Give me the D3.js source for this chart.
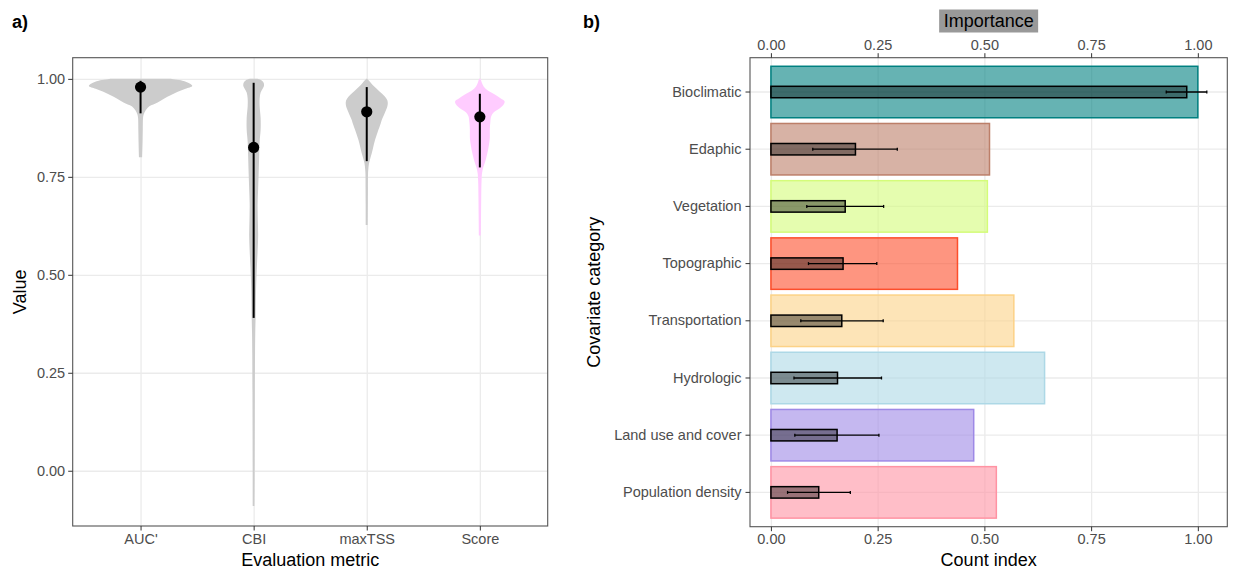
<!DOCTYPE html>
<html>
<head>
<meta charset="utf-8">
<script src="https://cdn.jsdelivr.net/npm/d3@7.9.0/dist/d3.min.js"></script>
<style>
  body { margin: 0; background: #fff; }
  text { font-family: "Liberation Sans", Arial, Helvetica, sans-serif; }
</style>
</head>
<body>
<div id="chart"></div>
<script>
// ---- panel a data: evaluation metrics (violins + point/range)
const metrics = ["AUC'", 'CBI', 'maxTSS', 'Score'];
const violinFill = ['#cccccc', '#cccccc', '#cccccc', '#ffccff'];

// [value, relative density] profiles
const aucViolin = [[1.0, 0.58], [0.995, 0.81], [0.988, 0.95], [0.982, 1.0], [0.975, 0.87], [0.967, 0.72],
  [0.958, 0.58], [0.95, 0.46], [0.94, 0.33], [0.93, 0.17], [0.92, 0.1], [0.91, 0.062], [0.9, 0.048],
  [0.87, 0.043], [0.84, 0.039], [0.8, 0.031]];
const cbiViolin = [[1.0, 0.077], [0.996, 0.155], [0.99, 0.193], [0.982, 0.2], [0.975, 0.174], [0.965, 0.135],
  [0.95, 0.116], [0.93, 0.116], [0.9, 0.135], [0.87, 0.135], [0.84, 0.116], [0.8, 0.106], [0.76, 0.097],
  [0.72, 0.087], [0.68, 0.077], [0.64, 0.081], [0.6, 0.087], [0.56, 0.077], [0.52, 0.062], [0.48, 0.05],
  [0.44, 0.043], [0.4, 0.039], [0.35, 0.031], [0.3, 0.027], [0.2, 0.023], [0.1, 0.021], [0.0, 0.019], [-0.09, 0.017]];
const tssViolin = [[1.0, 0.01], [0.99, 0.077], [0.979, 0.155], [0.965, 0.27], [0.955, 0.35], [0.945, 0.4],
  [0.935, 0.406], [0.925, 0.387], [0.91, 0.339], [0.895, 0.29], [0.886, 0.27], [0.865, 0.213], [0.844, 0.16],
  [0.826, 0.126], [0.81, 0.097], [0.795, 0.064], [0.784, 0.043], [0.77, 0.031], [0.758, 0.025], [0.72, 0.023],
  [0.68, 0.021], [0.627, 0.019]];
const scoreViolin = [[1.0, 0.015], [0.99, 0.039], [0.98, 0.077], [0.97, 0.155], [0.96, 0.29], [0.95, 0.406],
  [0.943, 0.478], [0.935, 0.464], [0.925, 0.387], [0.915, 0.27], [0.905, 0.222], [0.89, 0.203], [0.87, 0.193],
  [0.85, 0.193], [0.83, 0.174], [0.81, 0.145], [0.79, 0.106], [0.775, 0.068], [0.76, 0.043], [0.74, 0.033],
  [0.7, 0.027], [0.65, 0.023], [0.6, 0.019]];
const violins = [aucViolin, cbiViolin, tssViolin, scoreViolin];

const metricCentre = [0.979, 0.825, 0.916, 0.903];
const metricLow = [0.912, 0.39, 0.79, 0.774];
const metricHigh = [0.995, 0.99, 0.979, 0.962];
const valueTicks = [0, 0.25, 0.5, 0.75, 1];

// ---- panel b data: covariate categories
const categories = ['Bioclimatic', 'Edaphic', 'Vegetation', 'Topographic', 'Transportation',
  'Hydrologic', 'Land use and cover', 'Population density'];
const countIndex = [1.0, 0.512, 0.507, 0.437, 0.569, 0.641, 0.475, 0.528];
const importance = [0.974, 0.198, 0.174, 0.169, 0.166, 0.156, 0.155, 0.112];
const importanceLow = [0.926, 0.098, 0.084, 0.088, 0.07, 0.054, 0.056, 0.039];
const importanceHigh = [1.021, 0.296, 0.264, 0.248, 0.263, 0.259, 0.253, 0.186];
const categoryColors = ['#008080', '#bc7f69', '#d4fc7a', '#fd4e2b', '#fcd287', '#add8e6', '#9e89e6', '#ff93a3'];
const indexTicks = [0, 0.25, 0.5, 0.75, 1];

const width = 1235;
const height = 570;
const fmt = d3.format('.2f');

const svg = d3.select('#chart').append('svg')
  .attr('width', width)
  .attr('height', height)
  .style('display', 'block');

svg.append('rect').attr('width', width).attr('height', height).attr('fill', '#fff');

// ================= panel a =================
const pa = { left: 72.7, right: 547.7, top: 57.7, bottom: 526 };

const xA = d3.scalePoint().domain(metrics).range([pa.left, pa.right]).padding(0.6);
const yA = d3.scaleLinear().domain([-0.141, 1.054]).range([pa.bottom, pa.top]);
const halfA = xA.step() * 0.457; // widest violin half-width

const gA = svg.append('g');

// gridlines
gA.append('g')
  .attr('transform', `translate(${pa.left},0)`)
  .call(d3.axisLeft(yA).tickValues(valueTicks).tickFormat('').tickSize(-(pa.right - pa.left)))
  .call((g) => g.select('.domain').remove())
  .call((g) => g.selectAll('line').attr('stroke', '#ebebeb').attr('stroke-width', 1.3));
gA.append('g')
  .attr('transform', `translate(0,${pa.bottom})`)
  .call(d3.axisBottom(xA).tickFormat('').tickSize(-(pa.bottom - pa.top)))
  .call((g) => g.select('.domain').remove())
  .call((g) => g.selectAll('line').attr('stroke', '#ebebeb').attr('stroke-width', 1.3));

// violins
violins.forEach((prof, i) => {
  const cx = xA(metrics[i]);
  const area = d3.area()
    .y((d) => yA(d[0]))
    .x0((d) => cx - d[1] * halfA)
    .x1((d) => cx + d[1] * halfA)
    .curve(d3.curveCatmullRom);
  gA.append('path').attr('d', area(prof)).attr('fill', violinFill[i]);
});

// range lines and points
gA.append('g').selectAll('line').data(metrics).join('line')
  .attr('x1', (d) => xA(d)).attr('x2', (d) => xA(d))
  .attr('y1', (d, i) => yA(metricLow[i])).attr('y2', (d, i) => yA(metricHigh[i]))
  .attr('stroke', '#000').attr('stroke-width', 2);
gA.append('g').selectAll('circle').data(metrics).join('circle')
  .attr('cx', (d) => xA(d)).attr('cy', (d, i) => yA(metricCentre[i]))
  .attr('r', 5.6).attr('fill', '#000');

// border
gA.append('rect')
  .attr('x', pa.left).attr('y', pa.top)
  .attr('width', pa.right - pa.left).attr('height', pa.bottom - pa.top)
  .attr('fill', 'none').attr('stroke', '#555').attr('stroke-width', 1.1);

const styleAxis = (g) => {
  g.select('.domain').remove();
  g.selectAll('line').attr('stroke', '#333');
  g.selectAll('text').attr('fill', '#4d4d4d').style('font-size', '14.5px')
    .style('font-family', '"Liberation Sans", Arial, sans-serif');
};

// axes
gA.append('g')
  .attr('transform', `translate(${pa.left},0)`)
  .call(d3.axisLeft(yA).tickValues(valueTicks).tickFormat(fmt).tickSize(4.5).tickPadding(3))
  .call(styleAxis);
gA.append('g')
  .attr('transform', `translate(0,${pa.bottom})`)
  .call(d3.axisBottom(xA).tickSize(4.5).tickPadding(3))
  .call(styleAxis);

gA.append('text')
  .attr('x', (pa.left + pa.right) / 2).attr('y', 566)
  .attr('text-anchor', 'middle').style('font-size', '18px')
  .text('Evaluation metric');
gA.append('text')
  .attr('transform', `translate(26,${(pa.top + pa.bottom) / 2}) rotate(-90)`)
  .attr('text-anchor', 'middle').style('font-size', '18px')
  .text('Value');
gA.append('text')
  .attr('x', 12).attr('y', 28)
  .style('font-size', '18px').style('font-weight', 'bold')
  .text('a)');

// ================= panel b =================
const pb = { left: 750, right: 1227.3, top: 57.7, bottom: 526.7 };

const xB = d3.scaleLinear().domain([-0.049, 1.069]).range([pb.left, pb.right]);
const yB = d3.scaleBand().domain(categories).range([pb.top, pb.bottom]).paddingOuter(0.1).paddingInner(0);
const stepB = yB.step();
const gB = svg.append('g');

// gridlines
gB.append('g')
  .attr('transform', `translate(0,${pb.bottom})`)
  .call(d3.axisBottom(xB).tickValues(indexTicks).tickFormat('').tickSize(-(pb.bottom - pb.top)))
  .call((g) => g.select('.domain').remove())
  .call((g) => g.selectAll('line').attr('stroke', '#ebebeb').attr('stroke-width', 1.3));
gB.append('g')
  .attr('transform', `translate(${pb.left},0)`)
  .call(d3.axisLeft(yB).tickFormat('').tickSize(-(pb.right - pb.left)))
  .call((g) => g.select('.domain').remove())
  .call((g) => g.selectAll('line').attr('stroke', '#ebebeb').attr('stroke-width', 1.3));

const centreY = (d) => yB(d) + stepB / 2;

// count index bars
gB.append('g').selectAll('rect').data(categories).join('rect')
  .attr('x', xB(0))
  .attr('y', (d) => centreY(d) - stepB * 0.45)
  .attr('width', (d, i) => xB(countIndex[i]) - xB(0))
  .attr('height', stepB * 0.9)
  .attr('fill', (d, i) => categoryColors[i])
  .attr('fill-opacity', 0.6)
  .attr('stroke', (d, i) => categoryColors[i])
  .attr('stroke-width', 1.5);

// importance bars
gB.append('g').selectAll('rect').data(categories).join('rect')
  .attr('x', xB(0))
  .attr('y', (d) => centreY(d) - stepB * 0.1)
  .attr('width', (d, i) => xB(importance[i]) - xB(0))
  .attr('height', stepB * 0.2)
  .attr('fill', '#000')
  .attr('fill-opacity', 0.4)
  .attr('stroke', '#000')
  .attr('stroke-width', 1.5);

// error bars
const eb = gB.append('g').attr('stroke', '#000').attr('stroke-width', 1.3);
eb.selectAll('line.h').data(categories).join('line').attr('class', 'h')
  .attr('x1', (d, i) => xB(importanceLow[i])).attr('x2', (d, i) => xB(importanceHigh[i]))
  .attr('y1', centreY).attr('y2', centreY);
eb.selectAll('line.lo').data(categories).join('line').attr('class', 'lo')
  .attr('x1', (d, i) => xB(importanceLow[i])).attr('x2', (d, i) => xB(importanceLow[i]))
  .attr('y1', (d) => centreY(d) - 1.5).attr('y2', (d) => centreY(d) + 1.5);
eb.selectAll('line.hi').data(categories).join('line').attr('class', 'hi')
  .attr('x1', (d, i) => xB(importanceHigh[i])).attr('x2', (d, i) => xB(importanceHigh[i]))
  .attr('y1', (d) => centreY(d) - 1.5).attr('y2', (d) => centreY(d) + 1.5);

// border
gB.append('rect')
  .attr('x', pb.left).attr('y', pb.top)
  .attr('width', pb.right - pb.left).attr('height', pb.bottom - pb.top)
  .attr('fill', 'none').attr('stroke', '#555').attr('stroke-width', 1.1);

gB.append('g')
  .attr('transform', `translate(0,${pb.bottom})`)
  .call(d3.axisBottom(xB).tickValues(indexTicks).tickFormat(fmt).tickSize(4.5).tickPadding(3))
  .call(styleAxis);
gB.append('g')
  .attr('transform', `translate(0,${pb.top})`)
  .call(d3.axisTop(xB).tickValues(indexTicks).tickFormat(fmt).tickSize(4.5).tickPadding(3))
  .call(styleAxis);
gB.append('g')
  .attr('transform', `translate(${pb.left},0)`)
  .call(d3.axisLeft(yB).tickSize(4.5).tickPadding(4))
  .call(styleAxis);

gB.append('text')
  .attr('x', (pb.left + pb.right) / 2).attr('y', 566)
  .attr('text-anchor', 'middle').style('font-size', '18px')
  .text('Count index');
gB.append('text')
  .attr('transform', `translate(600,${(pb.top + pb.bottom) / 2}) rotate(-90)`)
  .attr('text-anchor', 'middle').style('font-size', '18px')
  .text('Covariate category');

// top axis title with grey box
const titleB = gB.append('g').attr('transform', `translate(${(pb.left + pb.right) / 2},21)`);
titleB.append('rect')
  .attr('x', -49.5).attr('y', -11.5).attr('width', 99).attr('height', 23)
  .attr('fill', '#999999');
titleB.append('text')
  .attr('text-anchor', 'middle').attr('dy', '0.35em')
  .style('font-size', '18px')
  .text('Importance');

gB.append('text')
  .attr('x', 583).attr('y', 28)
  .style('font-size', '18px').style('font-weight', 'bold')
  .text('b)');
</script>
</body>
</html>
